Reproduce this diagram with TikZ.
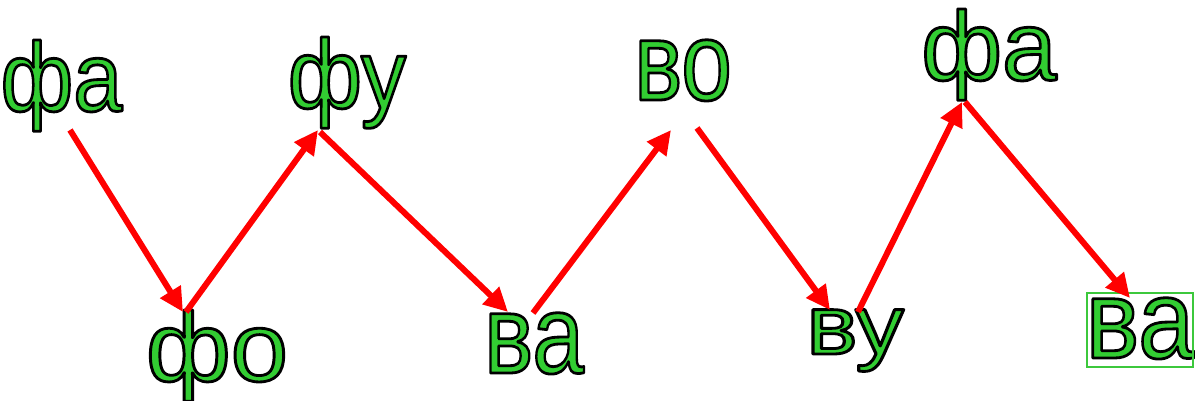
\documentclass[tikz,border=0pt]{standalone}
\usepackage{fontspec}
\usepackage{graphicx}
\usetikzlibrary{arrows.meta}
\newfontfamily\labfont{Liberation Sans}
\definecolor{lgreen}{RGB}{50,205,50}
\definecolor{boxgreen}{RGB}{60,200,60}
\definecolor{ared}{RGB}{255,0,0}
\newcommand{\olab}[3]{\scalebox{#2}[1]{\fontsize{#1}{#1}\selectfont\labfont\color{lgreen}\special{pdf:literal direct 0 G 2.8 w 1 j 2 Tr}#3\special{pdf:literal direct 0 Tr}}}
\tikzset{
  lab/.style={anchor=base, inner sep=0pt, outer sep=0pt},
  redarrow/.style={draw=ared, line width=6pt, -{Triangle[length=24pt,width=23pt]}},
  selbox/.style={draw=boxgreen, line width=1.3pt}
}
\begin{document}
\begin{tikzpicture}[x=1pt,y=-1pt]
\path[use as bounding box] (0,0) rectangle (1195,401);
% labels
\node[lab] (l1) at (61.5,111) {\olab{98}{0.9}{фа}};
\node[lab] (l2) at (217,381) {\olab{98}{1.05}{фо}};
\node[lab] (l3) at (347,108) {\olab{98}{0.92}{фу}};
\node[lab] (l4) at (534,373) {\olab{112}{0.83}{ва}};
\node[lab] (l5) at (683,100) {\olab{112}{0.81}{во}};
\node[lab] (l6) at (855,354) {\olab{84}{1.15}{ву}};
\node[lab] (l7) at (989,80) {\olab{98}{1.0}{фа}};
\node[lab] (l8) at (1140,358) {\olab{112}{0.9}{ва}};
\draw[selbox] (1087,293) rectangle (1193,367);
% arrow end points
\coordinate (a1s) at (70,130);
\coordinate (a1e) at (183,312);
\coordinate (a2s) at (186,312);
\coordinate (a2e) at (318,130);
\coordinate (a3s) at (320,132);
\coordinate (a3e) at (508,312);
\coordinate (a4s) at (533,313);
\coordinate (a4e) at (671,130);
\coordinate (a5s) at (697,128);
\coordinate (a5e) at (830,310);
\coordinate (a6s) at (858,312);
\coordinate (a6e) at (962,102);
\coordinate (a7s) at (965,102);
\coordinate (a7e) at (1130,298);
\draw[redarrow] (a1s) -- (a1e);
\draw[redarrow] (a2s) -- (a2e);
\draw[redarrow] (a3s) -- (a3e);
\draw[redarrow] (a4s) -- (a4e);
\draw[redarrow] (a5s) -- (a5e);
\draw[redarrow] (a6s) -- (a6e);
\draw[redarrow] (a7s) -- (a7e);
\end{tikzpicture}
\end{document}
